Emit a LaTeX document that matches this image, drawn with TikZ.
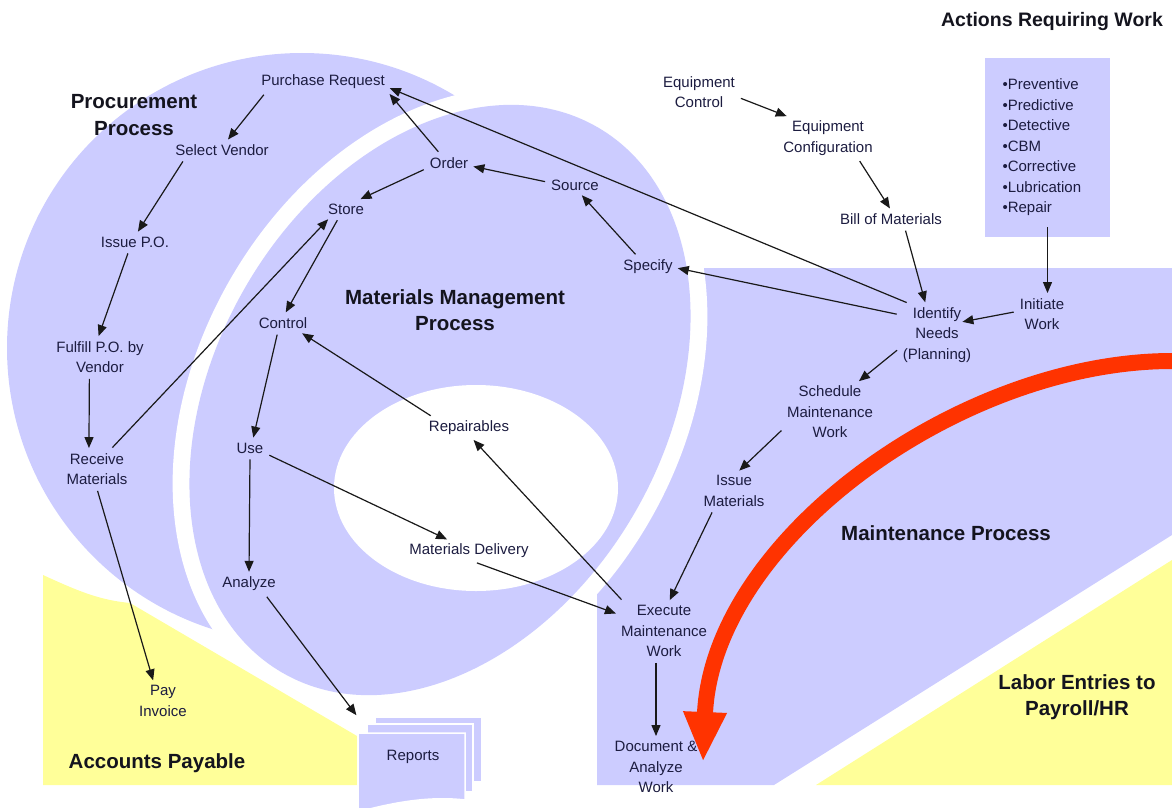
\documentclass[tikz,border=0pt]{standalone}
\usepackage{fontspec}
\setmainfont{Liberation Sans}
\usetikzlibrary{arrows.meta,positioning,calc}
\definecolor{lav}{RGB}{204,204,255}
\definecolor{paleyellow}{RGB}{255,255,153}
\definecolor{flamered}{RGB}{255,51,0}
\definecolor{ink}{RGB}{28,28,64}
\definecolor{headink}{RGB}{20,20,30}
\newcommand{\lblfont}{\fontsize{15}{20.5}\selectfont}
\newcommand{\headfont}{\bfseries\fontsize{20.5}{26.5}\selectfont}
\tikzset{
  lbl/.style={font=\lblfont, text=ink, align=center, inner sep=4pt},
  headtxt/.style={font=\headfont, text=headink, align=center, inner sep=0pt},
  flow/.style={draw=black!90, line width=1.2pt, -{Triangle[length=11pt,width=9pt]},
    shorten <=2pt, shorten >=1pt},
  sheet/.style={fill=lav, draw=white, line width=1.5pt},
  actbox/.style={fill=lav, minimum width=125pt, minimum height=179pt, text width=90pt,
    inner xsep=17pt, align=left, font=\lblfont, text=ink}
}

\begin{document}
\begin{tikzpicture}[x=1pt,y=1pt]
  \useasboundingbox (0,0) rectangle (1172,-808);
  % process areas
  \fill[lav] (302,-348) circle[radius=295pt];
  \fill[lav] (560,-268) -- (1172,-268) -- (1172,-535) -- (774,-785) -- (597,-785)
    -- (597,-560) -- cycle;
  \fill[white] (440,-400) ellipse[x radius=242pt, y radius=332pt, rotate=-30];
  \fill[lav] (440,-400) ellipse[x radius=225pt, y radius=315pt, rotate=-30];
  \fill[white] (476,-488) ellipse[x radius=142pt, y radius=103pt];
  \fill[paleyellow] (43,-575) .. controls (80,-592) and (100,-600) .. (130,-603)
    -- (357,-736) -- (357,-785) -- (43,-785) -- cycle;
  \fill[paleyellow] (816,-785) -- (1172,-560) -- (1172,-785) -- cycle;
  % report sheets
  \draw[sheet] (375,-717) rectangle (482,-782);
  \draw[sheet] (367,-724) rectangle (473,-792);
  \draw[sheet] (358,-733) -- (465,-733) -- (465,-800)
    .. controls (430,-796) and (395,-802) .. (358,-812) -- cycle;
  \coordinate (rpttop) at (357,-716);
  % work flow
  \draw[flamered, line width=16pt, -{Triangle[length=50pt,width=40pt]}]
    (1172,-361) .. controls (960,-361) and (712,-540) .. (703,-762);

  \node[lbl] (pr) at (323,-82) {Purchase Request};
  \node[lbl] (sv) at (222,-150) {Select Vendor};
  \node[lbl] (ipo) at (135,-242) {Issue P.O.};
  \node[lbl] (fpo) at (100,-357) {Fulfill P.O. by\\Vendor};
  \node[lbl] (rcv) at (97,-469) {Receive\\Materials};
  \node[lbl] (pay) at (163,-701) {Pay\\Invoice};
  \node[lbl] (ord) at (449,-163) {Order};
  \node[lbl] (sto) at (346,-209) {Store};
  \node[lbl] (src) at (575,-185) {Source};
  \node[lbl] (spc) at (648,-267) {Specify};
  \node[lbl] (ctl) at (283,-323) {Control};
  \node[lbl] (use) at (250,-448) {Use};
  \node[lbl] (ana) at (249,-584) {Analyze};
  \node[lbl] (rep) at (469,-428) {Repairables};
  \node[lbl] (mdl) at (469,-551) {Materials Delivery};
  \node[lbl] (eqc) at (699,-92) {Equipment\\Control};
  \node[lbl] (eqg) at (828,-138) {Equipment\\Configuration};
  \node[lbl] (bom) at (891,-219) {Bill of Materials};
  \node[lbl] (idn) at (937,-335) {Identify\\Needs\\(Planning)};
  \node[lbl] (ini) at (1042,-314) {Initiate\\Work};
  \node[lbl] (sch) at (830,-412) {Schedule\\Maintenance\\Work};
  \node[lbl] (ism) at (734,-491) {Issue\\Materials};
  \node[lbl] (exe) at (664,-631) {Execute\\Maintenance\\Work};
  \node[lbl] (doc) at (656,-767) {Document \&\\Analyze\\Work};
  \node[lbl] (rpt) at (413,-757) {Reports};
  \node[actbox] (acts) at (1047.5,-147.5) {•Preventive\\•Predictive\\•Detective\\•CBM\\•Corrective\\•Lubrication\\•Repair};

  \node[headtxt] (hproc) at (134,-115) {Procurement\\Process};
  \node[headtxt] (hmat) at (455,-310) {Materials Management\\Process};
  \node[headtxt] (hmnt) at (946,-533) {Maintenance Process};
  \node[headtxt] (hap) at (157,-763) {Accounts Payable};
  \node[headtxt] (hlab) at (1077,-697) {Labor Entries to\\Payroll/HR};
  \node[headtxt, font=\bfseries\fontsize{19.5}{24}\selectfont] (hact) at (1052,-22)
    {Actions Requiring Work};

  % procurement
  \draw[flow] ([xshift=8pt]pr.south west) -- (sv.61);
  \draw[flow] ([xshift=-38pt]sv.south) -- (ipo.76);
  \draw[flow] (ipo.236) -- (fpo.95);
  \draw[flow] (fpo.242) -- (rcv.112);
  \draw[flow] (rcv.270) -- (pay.116);
  \draw[flow] (rcv.55) -- (sto.209);
  % materials
  \draw[flow] (sto.231) -- (ctl.77);
  \draw[flow] (ord.194) -- (sto.35);
  \draw[flow] (ord.134) -- (pr.south east);
  \draw[flow] (src.174) -- (ord.352);
  \draw[flow] (spc.135) -- (src.303);
  \draw[flow] (ctl.241) -- (use.72);
  \draw[flow] (use.south) -- (ana.north);
  \draw[flow] (use.340) -- (mdl.152);
  \draw[flow] (rep.163) -- (ctl.332);
  \draw[flow] (ana.326) -- (rpttop);
  % maintenance
  \draw[flow] (idn.152) -- (spc.358);
  \draw[flow] (idn.132) -- (pr.355);
  \draw[flow] (ini.175) -- ([shift={(-14pt,13pt)}]idn.east);
  \draw[flow] ([xshift=14pt]bom.south) -- (idn.110);
  \draw[flow] (eqc.352) -- (eqg.152);
  \draw[flow] (eqg.325) -- (bom.93);
  \draw[flow] ([yshift=12pt]acts.south) -- (acts.south |- ini.north);
  \draw[flow] (idn.200) -- (sch.47);
  \draw[flow] (sch.200) -- (ism.77);
  \draw[flow] (ism.223) -- (exe.80);
  \draw[flow] (doc.north |- exe.south) -- (doc.north);
  \draw[flow] (exe.144) -- (rep.289);
  \draw[flow] ([xshift=6pt]mdl.south) -- (exe.160);
\end{tikzpicture}
\end{document}
